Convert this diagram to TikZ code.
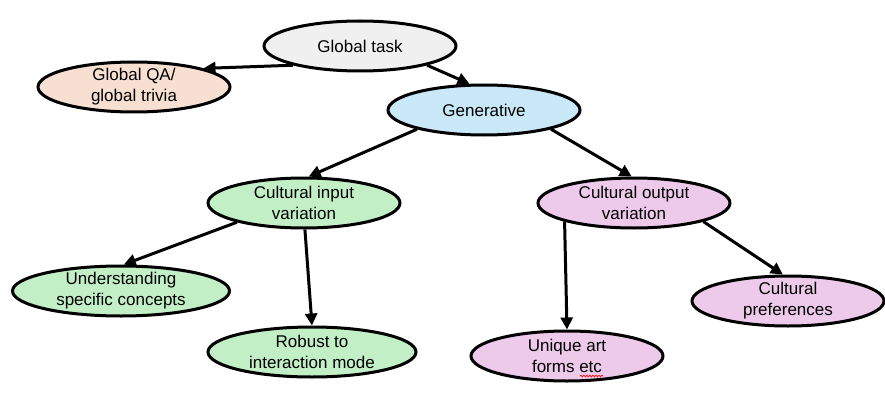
\documentclass[tikz,border=0pt]{standalone}
\usepackage{fontspec}
\setmainfont{Liberation Sans}
\usetikzlibrary{arrows.meta,shapes.geometric,decorations.pathmorphing}

\definecolor{taskgray}{HTML}{F0F0F0}
\definecolor{triviapeach}{HTML}{F7DFD1}
\definecolor{genblue}{HTML}{C9E8F8}
\definecolor{inputgreen}{HTML}{C2EFC6}
\definecolor{outputpink}{HTML}{EDC9EA}

\begin{document}
\begin{tikzpicture}[x=1pt,y=-1pt,->,>={Triangle[length=12pt,width=12pt]},line width=3pt,
main node/.style={ellipse,draw,line width=3pt,minimum width=192pt,minimum height=50pt,
inner sep=0pt,inner ysep=-4pt,align=center,font=\fontsize{17}{21}\selectfont}]

\useasboundingbox (0,0) rectangle (885,401);

\node[main node,fill=taskgray] (gt) at (360,46) {Global task};
\node[main node,fill=triviapeach] (qa) at (134,87) {Global QA/\\global trivia};
\node[main node,fill=genblue] (gen) at (484,110) {Generative};
\node[main node,fill=inputgreen] (in) at (304,203) {Cultural input\\variation};
\node[main node,fill=outputpink] (out) at (634,203) {Cultural output\\variation};
\node[main node,fill=inputgreen,minimum width=217pt] (und) at (121,291) {Understanding\\specific concepts};
\node[main node,fill=inputgreen,minimum width=208pt] (rob) at (312,352) {Robust to\\interaction mode};
\node[main node,fill=outputpink] (art) at (567,356) {Unique art\\forms etc};
\node[main node,fill=outputpink] (pref) at (788,301) {Cultural\\preferences};

\path
(gt.196) edge (qa.15)
(gt.344) edge (gen.119)
(gen.196) edge (in.80)
(gen.344) edge (out.95)
(in.196) edge (und.84)
(in.272) edge (rob.90)
(out.195.2) edge (art.90)
(out.345) edge (pref.101);

% spell-check squiggle
\draw[-,red,line width=0.7pt,decorate,decoration={snake,amplitude=0.8pt,segment length=3pt}]
(580,376) -- (603,376);

\end{tikzpicture}
\end{document}
